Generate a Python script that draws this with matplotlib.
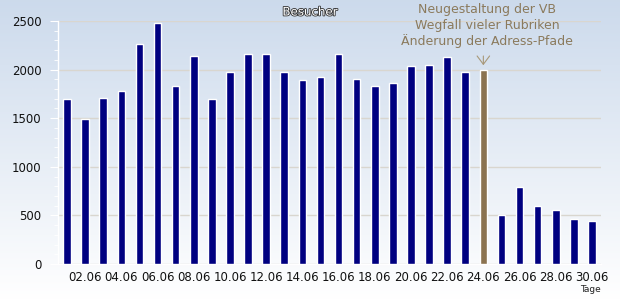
import matplotlib
matplotlib.use("Agg")
import matplotlib.pyplot as plt
import matplotlib.patheffects as pe
from matplotlib.ticker import MultipleLocator
import numpy as np

days = [f"{d:02d}.06" for d in range(1, 31)]
visitors = [1700, 1490, 1710, 1775, 2260, 2475, 1835, 2140, 1700, 1975,
            2160, 2160, 1975, 1890, 1920, 2160, 1900, 1835, 1865, 2035,
            2045, 2125, 1975, 2000, 505, 795, 600, 560, 466, 445]
highlight_day = "24.06"
annotation = "Neugestaltung der VB\nWegfall vieler Rubriken\nÄnderung der Adress-Pfade"
title = "Besucher"
xlabel = "Tage"

W, H = 620, 300
fig = plt.figure(figsize=(W / 100, H / 100), dpi=100)

# background gradient
bg = fig.add_axes([0, 0, 1, 1], zorder=-10)
grad = np.linspace(0, 1, 256).reshape(-1, 1)
top = np.array([0.80, 0.855, 0.925])
bot = np.array([1.0, 1.0, 1.0])
img = top[None, None, :] * (1 - grad[:, :, None]) + bot[None, None, :] * grad[:, :, None]
bg.imshow(img, aspect="auto", extent=[0, 1, 0, 1])
bg.axis("off")

left, right = 58 / W, 601 / W
bottom_px, top_px = 264, 21
ax = fig.add_axes([left, 1 - bottom_px / H, right - left, (bottom_px - top_px) / H])
ax.patch.set_alpha(0)

x = np.arange(1, len(days) + 1)
colors = ["#8b7350" if d == highlight_day else "#000080" for d in days]
ax.bar(x, visitors, width=0.42, color=colors, edgecolor="white", linewidth=1.0, zorder=3)

ax.set_xlim(0.5, len(days) + 0.5)
ax.set_ylim(0, 2500)
ax.yaxis.set_major_locator(MultipleLocator(500))
ax.yaxis.set_minor_locator(MultipleLocator(100))
ax.grid(axis="y", which="major", color="#d9d6cf", linewidth=1.0, zorder=1)

tick_pos = x[1::2]
ax.set_xticks(tick_pos)
ax.set_xticklabels([days[i - 1] for i in tick_pos], fontsize=8.5, color="#111111",
                   family="DejaVu Sans")
ax.tick_params(axis="x", which="both", length=0, pad=5)
ax.tick_params(axis="y", which="major", length=6, color="white", labelsize=8.5,
               labelcolor="#111111", pad=6)
ax.tick_params(axis="y", which="minor", length=3, color="white")
for s in ["top", "right"]:
    ax.spines[s].set_visible(False)
for s in ["left", "bottom"]:
    ax.spines[s].set_color("white")
    ax.spines[s].set_linewidth(1.0)

fig.text(310 / W, 1 - 12 / H, title, ha="center", va="center", fontsize=8.5,
         color="white", path_effects=[pe.withStroke(linewidth=1.2, foreground="#333333")])
fig.text(590 / W, 1 - 289 / H, xlabel, ha="center", va="center", fontsize=6.5,
         color="#222222")

hi = days.index(highlight_day) + 1
fig.text(487 / W, 1 - 3 / H, annotation, ha="center", va="top", fontsize=9,
         color="#8b7a5c", linespacing=1.25)
# arrow from below the text down to just above the highlighted bar
ax.annotate("", xy=(hi, visitors[hi - 1] + 45), xytext=(hi, visitors[hi - 1] + 140),
            annotation_clip=False,
            arrowprops=dict(arrowstyle="->,head_length=0.6,head_width=0.45",
                            color="#a89878", lw=0.8, shrinkA=0, shrinkB=0))

fig.savefig("out.png", dpi=100)
